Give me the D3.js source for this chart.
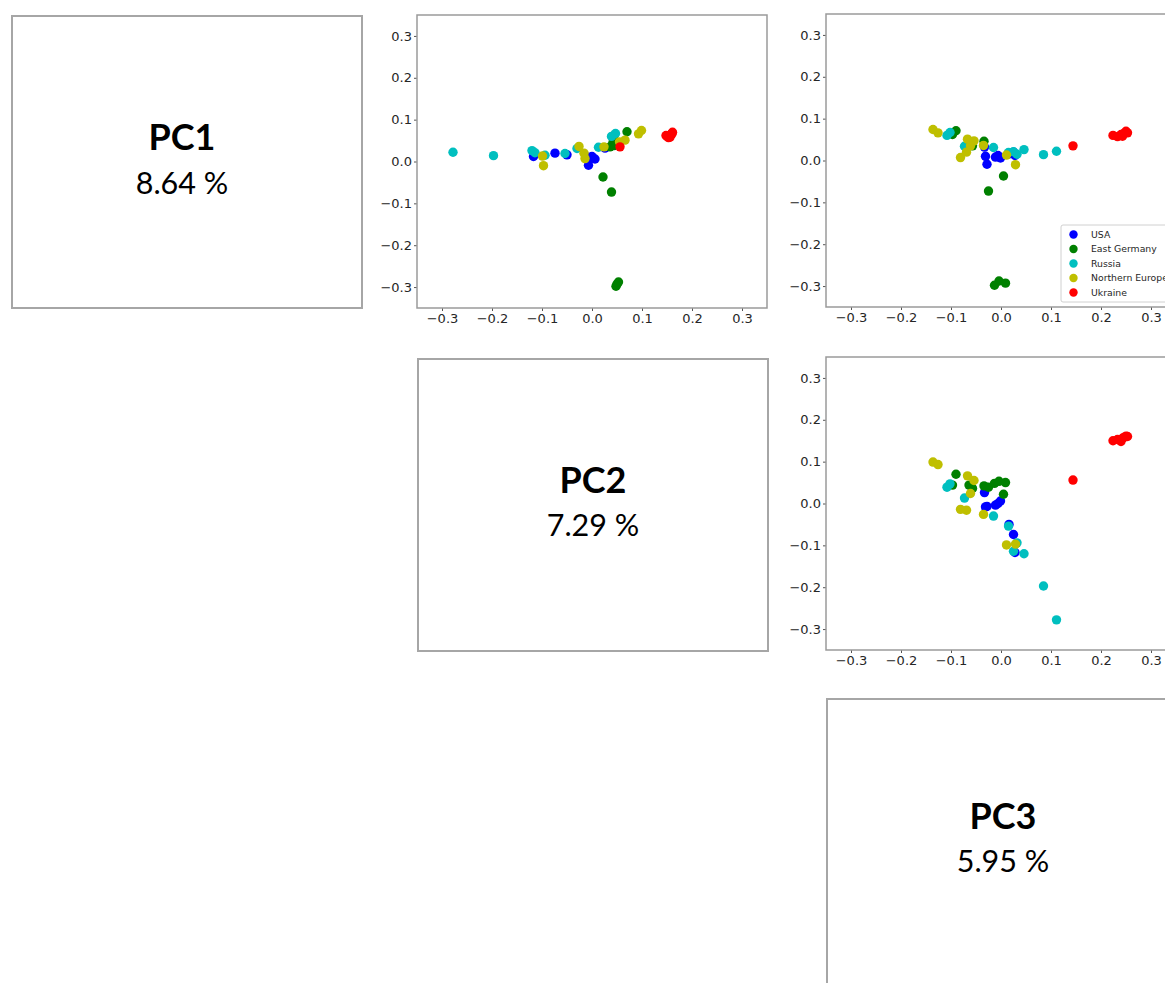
<!DOCTYPE html>
<html>
<head>
<meta charset="utf-8">
<script src="https://cdn.jsdelivr.net/npm/d3@7"></script>
<style>
  html, body { margin: 0; padding: 0; background: #fff; overflow: hidden; }
  svg { display: block; }
</style>
</head>
<body>
<svg id="chart" width="1165" height="983"></svg>
<script>
// Principal components and their explained variance (%)
const components = ["PC1", "PC2", "PC3"];
const explained = [8.64, 7.29, 5.95];

// Population groups, in legend / drawing order
const groups = ["USA", "East Germany", "Russia", "Northern Europe", "Ukraine"];

// Sample scores per group: [PC1, PC2, PC3]
const usa = [
  [0.012, -0.117, 0.028],
  [0.020, -0.074, 0.025],
  [0.016, -0.050, 0.016],
  [-0.009, -0.007, -0.028],
  [0.008, -0.004, -0.011],
  [0.006, 0.006, -0.001],
  [0.032, 0.026, -0.033],
  [0.012, 0.000, -0.006],
  [0.010, -0.008, -0.031]
];
const eastGermany = [
  [-0.298, 0.048, -0.013],
  [-0.288, 0.053, -0.004],
  [-0.293, 0.050, 0.009],
  [-0.037, 0.022, 0.005],
  [-0.073, 0.039, -0.025],
  [0.071, 0.070, -0.090],
  [0.062, 0.044, -0.097],
  [0.035, 0.036, -0.057],
  [0.046, 0.042, -0.034],
  [0.038, 0.044, -0.064]
];
const russia = [
  [0.022, -0.278, 0.111],
  [0.014, -0.197, 0.085],
  [0.026, -0.120, 0.046],
  [0.021, -0.114, 0.025],
  [0.015, -0.094, 0.032],
  [0.019, -0.054, 0.015],
  [0.031, -0.030, -0.015],
  [0.034, 0.013, -0.073],
  [0.060, 0.039, -0.108],
  [0.067, 0.047, -0.102]
];
const northernEurope = [
  [-0.010, -0.097, 0.029],
  [0.013, -0.099, 0.011],
  [0.074, 0.099, -0.136],
  [0.066, 0.093, -0.126],
  [0.051, 0.066, -0.067],
  [0.047, 0.055, -0.054],
  [0.036, -0.026, -0.035],
  [0.035, 0.024, -0.061],
  [0.007, -0.014, -0.081],
  [0.020, -0.016, -0.069]
];
const ukraine = [
  [0.035, 0.056, 0.144],
  [0.060, 0.150, 0.224],
  [0.057, 0.153, 0.233],
  [0.062, 0.148, 0.240],
  [0.065, 0.158, 0.246],
  [0.070, 0.161, 0.250],
  [0.058, 0.156, 0.243],
  [0.066, 0.160, 0.253]
];
const groupScores = [usa, eastGermany, russia, northernEurope, ukraine];

// Axis ticks shared by every scatter panel
const tickValues = [-0.3, -0.2, -0.1, 0.0, 0.1, 0.2, 0.3];
const axisDomain = [-0.35, 0.35];

// ---- styling ----
const groupColors = ["#0000ff", "#008000", "#00bfbf", "#bfbf00", "#ff0000"];
const frameColor = "#9a9a9a";
const tickFont = "DejaVu Sans, sans-serif";

// Scatter panels: xComp / yComp index into components
const panels = [
  { left: 417, top: 15,  w: 350, h: 293, xComp: 1, yComp: 0, legend: false },
  { left: 826, top: 14,  w: 350, h: 293, xComp: 2, yComp: 0, legend: true },
  { left: 826, top: 357, w: 350, h: 293, xComp: 2, yComp: 1, legend: false }
];

// Diagonal label boxes
const boxes = [
  { left: 12,  top: 16,  w: 350, h: 292, cx: 182,  nameY: 150, pctY: 194 },
  { left: 418, top: 359, w: 350, h: 292, cx: 593,  nameY: 493, pctY: 536 },
  { left: 827, top: 699, w: 350, h: 292, cx: 1003, nameY: 829, pctY: 872 }
];

const svg = d3.select("#chart");

// Label boxes on the diagonal
boxes.forEach((b, i) => {
  const g = svg.append("g").attr("class", "pc-box");
  g.append("rect")
    .attr("x", b.left).attr("y", b.top)
    .attr("width", b.w).attr("height", b.h)
    .attr("fill", "#fff")
    .attr("stroke", "#a6a6a6")
    .attr("stroke-width", 2);
  g.append("text")
    .attr("x", b.cx).attr("y", b.nameY)
    .attr("text-anchor", "middle")
    .attr("font-family", "Lato, 'Open Sans', sans-serif")
    .attr("font-weight", "bold")
    .attr("font-size", 36)
    .attr("fill", "#000")
    .text(components[i]);
  g.append("text")
    .attr("x", b.cx).attr("y", b.pctY)
    .attr("text-anchor", "middle")
    .attr("font-family", "Lato, 'Open Sans', sans-serif")
    .attr("font-size", 30.5)
    .attr("fill", "#000")
    .text(explained[i].toFixed(2) + " %");
});

// Scatter panels
const fmt = d3.format(".1f");

panels.forEach(p => {
  const x = d3.scaleLinear().domain(axisDomain).range([p.left, p.left + p.w]);
  const y = d3.scaleLinear().domain(axisDomain).range([p.top + p.h, p.top]);
  const g = svg.append("g").attr("class", "panel");

  g.append("rect")
    .attr("x", p.left).attr("y", p.top)
    .attr("width", p.w).attr("height", p.h)
    .attr("fill", "#fff");

  const xAxis = g.append("g")
    .attr("transform", `translate(0,${p.top + p.h})`)
    .call(d3.axisBottom(x).tickValues(tickValues).tickFormat(fmt).tickSize(3).tickPadding(3));
  const yAxis = g.append("g")
    .attr("transform", `translate(${p.left},0)`)
    .call(d3.axisLeft(y).tickValues(tickValues).tickFormat(fmt).tickSize(3).tickPadding(2));
  [xAxis, yAxis].forEach(a => {
    a.select(".domain").remove();
    a.selectAll(".tick line").attr("stroke", "#555");
    a.selectAll(".tick text")
      .attr("font-family", tickFont)
      .attr("font-size", 13)
      .attr("fill", "#262626");
  });

  // Points, one layer per group in legend order
  groupScores.forEach((rows, gi) => {
    g.append("g").selectAll("circle")
      .data(rows)
      .join("circle")
      .attr("cx", d => x(d[p.xComp]))
      .attr("cy", d => y(d[p.yComp]))
      .attr("r", 4.7)
      .attr("fill", groupColors[gi]);
  });

  // Frame drawn over the points
  g.append("rect")
    .attr("x", p.left).attr("y", p.top)
    .attr("width", p.w).attr("height", p.h)
    .attr("fill", "none")
    .attr("stroke", frameColor)
    .attr("stroke-width", 1.5);

  if (p.legend) {
    const lx = p.left + 235, ly = p.top + 211;
    const lg = g.append("g").attr("class", "legend");
    lg.append("rect")
      .attr("x", lx).attr("y", ly)
      .attr("width", 120).attr("height", 77)
      .attr("rx", 2)
      .attr("fill", "#fff").attr("fill-opacity", 0.85)
      .attr("stroke", "#d0d0d0").attr("stroke-width", 1);
    groups.forEach((name, i) => {
      const yy = ly + 9.5 + i * 14.5;
      lg.append("circle")
        .attr("cx", lx + 12.5).attr("cy", yy)
        .attr("r", 4.2)
        .attr("fill", groupColors[i]);
      lg.append("text")
        .attr("x", lx + 30).attr("y", yy)
        .attr("dy", "0.35em")
        .attr("font-family", tickFont)
        .attr("font-size", 9.3)
        .attr("fill", "#262626")
        .text(name);
    });
  }
});
</script>
</body>
</html>
